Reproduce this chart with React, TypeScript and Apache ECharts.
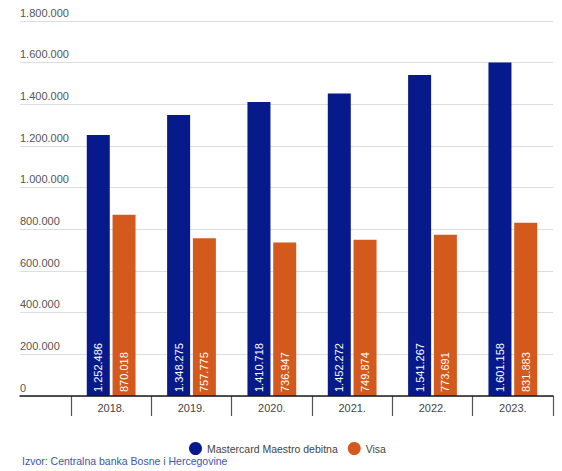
import React, { useEffect, useRef } from "react";
import * as echarts from "echarts";

const categories = ["2018.", "2019.", "2020.", "2021.", "2022.", "2023."];
const mastercard = [1252486, 1348275, 1410718, 1452272, 1541267, 1601158];
const visa = [870018, 757775, 736947, 749874, 773691, 831883];
const seriesNames = ["Mastercard Maestro debitna", "Visa"];
const sourceText = "Izvor: Centralna banka Bosne i Hercegovine";

const FONT = "'Liberation Sans', Arial, sans-serif";
const fmt = (v: number) => String(Math.round(v)).replace(/\B(?=(\d{3})+(?!\d))/g, ".");

export default function App() {
  const ref = useRef<HTMLDivElement>(null);
  useEffect(() => {
    if (!ref.current) return;
    const chart = echarts.init(ref.current, undefined, { renderer: "svg" });
    const barLabel = {
      show: true,
      position: "insideBottom",
      rotate: 90,
      align: "left",
      verticalAlign: "middle",
      distance: 4,
      color: "#ffffff",
      fontSize: 11,
      fontFamily: FONT,
      formatter: (p: any) => fmt(p.value),
    };
    chart.setOption({
      animation: false,
      textStyle: { fontFamily: FONT },
      grid: [
        { left: 20, right: 9, top: 21, bottom: 75 },
        { left: 71, right: 9, top: 21, bottom: 75 },
      ],
      xAxis: [
        {
          gridIndex: 0,
          type: "category",
          data: ["a"],
          axisLine: { show: true, lineStyle: { color: "#1a1a1a", width: 1.5 } },
          axisTick: { show: false },
          axisLabel: { show: false },
          z: 5,
        },
        {
          gridIndex: 1,
          type: "category",
          data: categories,
          axisLine: { show: false },
          axisTick: { show: true, length: 20, lineStyle: { color: "#555", width: 1.2 } },
          axisLabel: { color: "#444", fontSize: 11, margin: 6, fontFamily: FONT },
        },
      ],
      yAxis: [
        {
          gridIndex: 0,
          type: "value",
          min: 0,
          max: 1800000,
          interval: 200000,
          axisLine: { show: false },
          axisTick: { show: false },
          splitLine: { lineStyle: { color: "#dddddd", width: 1 } },
          axisLabel: {
            inside: true,
            margin: 0,
            align: "left",
            verticalAlign: "bottom",
            padding: [0, 0, 3, 0],
            color: "#555",
            fontSize: 11,
            fontFamily: FONT,
            formatter: (v: number) => fmt(v),
          },
        },
        {
          gridIndex: 1,
          type: "value",
          min: 0,
          max: 1800000,
          interval: 200000,
          show: false,
          splitLine: { show: false },
        },
      ],
      legend: {
        data: seriesNames,
        left: 184,
        top: 437,
        icon: "circle",
        itemWidth: 13,
        itemHeight: 13,
        itemGap: 10,
        textStyle: { color: "#444", fontSize: 10.5, fontFamily: FONT },
      },
      graphic: [
        {
          type: "text",
          left: 22,
          top: 455,
          style: { text: sourceText, fill: "#3a55b5", fontSize: 10.5, fontFamily: FONT },
        },
      ],
      series: [
        {
          name: seriesNames[0],
          type: "bar",
          xAxisIndex: 1,
          yAxisIndex: 1,
          data: mastercard,
          barWidth: 23,
          barGap: "12%",
          itemStyle: { color: "#061a8c" },
          label: barLabel,
        },
        {
          name: seriesNames[1],
          type: "bar",
          xAxisIndex: 1,
          yAxisIndex: 1,
          data: visa,
          barWidth: 23,
          barGap: "12%",
          itemStyle: { color: "#d4591d" },
          label: barLabel,
        },
      ],
    });
    return () => chart.dispose();
  }, []);
  return (
    <div
      ref={ref}
      style={{ position: "fixed", left: 0, top: 0, width: 562, height: 471, background: "#fff" }}
    />
  );
}
